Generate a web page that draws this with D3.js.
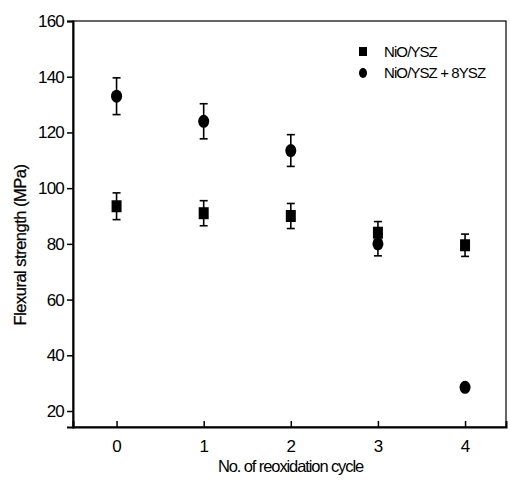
<!DOCTYPE html>
<html><head><meta charset="utf-8">
<script src="https://cdn.jsdelivr.net/npm/d3@7"></script>
<style>body{margin:0;background:#fff}text{font-family:"Liberation Sans",Arial,sans-serif;fill:#000}</style>
</head><body><svg id="c" width="510" height="489"></svg>
<script>
const cycles = [0, 1, 2, 3, 4];
const nioYsz = [93.5, 91, 90, 84, 79.5];
const nioYszErr = [4.8, 4.5, 4.5, 4, 4];
const nioYsz8 = [133, 124, 113.5, 80, 28.5];
const nioYsz8Err = [6.6, 6.3, 5.7, 4.3, 0];
const yTicks = [20, 40, 60, 80, 100, 120, 140, 160];
const xTicks = [0, 1, 2, 3, 4];
const seriesNames = ["NiO/YSZ", "NiO/YSZ + 8YSZ"];

const svg = d3.select("#c");
const L = 73, R = 506, T = 21, B = 427;
const x = d3.scaleLinear().domain([-0.5, 4.47]).range([L, R]);
const y = d3.scaleLinear().domain([14.26, 160]).range([B, T]);

// frame
svg.append("rect").attr("x", L).attr("y", T).attr("width", R - L).attr("height", B - T)
  .attr("fill", "none").attr("stroke", "#000").attr("stroke-width", 1.2);

// y axis
const ya = svg.append("g").attr("transform", `translate(${L},0)`)
  .call(d3.axisLeft(y).tickValues(yTicks).tickSize(6).tickPadding(3).tickFormat(d3.format("d")));
ya.select(".domain").attr("stroke-width", 2);
ya.selectAll("line").attr("stroke-width", 1.5);
ya.selectAll("text").style("font-size", "17px").attr("letter-spacing", "-0.8px");

// x axis (ticks inside)
const xa = svg.append("g").attr("transform", `translate(0,${B})`)
  .call(d3.axisBottom(x).tickValues(xTicks).tickSize(-6).tickPadding(13).tickFormat(d3.format("d")));
xa.select(".domain").attr("stroke-width", 2);
xa.selectAll("line").attr("stroke-width", 1.5);
xa.selectAll("text").style("font-size", "17px");

// axis titles
svg.append("text").attr("x", (L + R) / 2 + 1).attr("y", 472).attr("text-anchor", "middle")
  .style("font-size", "16.5px").attr("letter-spacing", "-1.1px").text("No. of reoxidation cycle");
svg.append("text").attr("transform", "translate(26,245) rotate(-90)").attr("text-anchor", "middle")
  .attr("stroke", "#000").attr("stroke-width", 0.25)
  .style("font-size", "16.5px").attr("letter-spacing", "-0.5px").text("Flexural strength (MPa)");

function errBars(vals, errs) {
  const g = svg.append("g").attr("stroke", "#000").attr("stroke-width", 1.6);
  cycles.forEach((c, i) => {
    if (!errs[i]) return;
    const cx = x(c), y1 = y(vals[i] + errs[i]), y2 = y(vals[i] - errs[i]);
    g.append("line").attr("x1", cx).attr("x2", cx).attr("y1", y1).attr("y2", y2);
    g.append("line").attr("x1", cx - 4).attr("x2", cx + 4).attr("y1", y1).attr("y2", y1);
    g.append("line").attr("x1", cx - 4).attr("x2", cx + 4).attr("y1", y2).attr("y2", y2);
  });
}
errBars(nioYsz, nioYszErr);
errBars(nioYsz8, nioYsz8Err);

svg.append("g").selectAll("rect").data(cycles).join("rect")
  .attr("x", (d) => x(d) - 5).attr("y", (d, i) => y(nioYsz[i]) - 6)
  .attr("width", 10).attr("height", 12).attr("fill", "#000");
svg.append("g").selectAll("ellipse").data(cycles).join("ellipse")
  .attr("cx", (d) => x(d)).attr("cy", (d, i) => y(nioYsz8[i]))
  .attr("rx", 5.5).attr("ry", 6.5).attr("fill", "#000");

// legend
const lg = svg.append("g");
lg.append("rect").attr("x", 359).attr("y", 47).attr("width", 8).attr("height", 9).attr("fill", "#000");
lg.append("ellipse").attr("cx", 363).attr("cy", 73).attr("rx", 4).attr("ry", 5).attr("fill", "#000");
lg.append("text").attr("x", 384).attr("y", 57).style("font-size", "15px").attr("letter-spacing", "-0.9px").text(seriesNames[0]);
lg.append("text").attr("x", 384).attr("y", 78).style("font-size", "15px").attr("letter-spacing", "-0.9px").text(seriesNames[1]);
</script></body></html>
